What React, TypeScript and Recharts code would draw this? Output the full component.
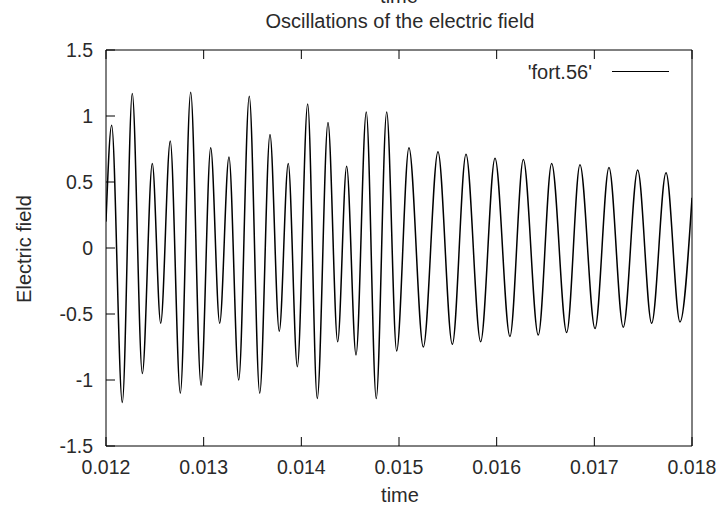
import React from 'react';
import { LineChart, Line, XAxis, YAxis } from 'recharts';

// peaks / troughs
const times = [
  0.012, 0.012058, 0.012167, 0.012269, 0.012372, 0.012474, 0.01256, 0.012658, 0.012761, 0.012867,
  0.012973, 0.013072, 0.013164, 0.013259, 0.013359, 0.013467, 0.013574, 0.013679, 0.013774, 0.013866,
  0.013959, 0.014065, 0.014163, 0.014273, 0.014372, 0.014464, 0.01456, 0.014665, 0.014767, 0.014874,
  0.014976, 0.015102, 0.015249, 0.015399, 0.015546, 0.015686, 0.015836, 0.015983, 0.016136, 0.016273,
  0.016426, 0.016563, 0.016717, 0.016853, 0.017007, 0.01715, 0.017296, 0.017444, 0.017587, 0.017734,
  0.017877, 0.018,
];
const field = [
  0.2, 0.93, -1.17, 1.17, -0.95, 0.64, -0.57, 0.81, -1.1, 1.18,
  -1.04, 0.76, -0.57, 0.69, -1.0, 1.15, -1.1, 0.86, -0.63, 0.64,
  -0.9, 1.09, -1.14, 0.95, -0.71, 0.62, -0.81, 1.03, -1.14, 1.03,
  -0.78, 0.76, -0.75, 0.73, -0.73, 0.71, -0.71, 0.68, -0.67, 0.67,
  -0.66, 0.64, -0.64, 0.63, -0.61, 0.61, -0.6, 0.59, -0.57, 0.57,
  -0.56, 0.38,
];
const xTicks = [0.012, 0.013, 0.014, 0.015, 0.016, 0.017, 0.018];
const yTicks = [-1.5, -1, -0.5, 0, 0.5, 1, 1.5];

const data = times.map((t, i) => ({ t, e: field[i] }));

const FONT = '"Liberation Sans", Arial, sans-serif';
const TXT = '#2a2a2a';
const TICK = 9;

const BottomTick = (p: any) => (
  <g>
    <line x1={p.x} x2={p.x} y1={p.y} y2={p.y - TICK} stroke="#000" />
    <text x={p.x} y={p.y + 28} textAnchor="middle" fontSize={19.5} fontFamily={FONT} fill={TXT}>
      {Number(p.payload.value).toFixed(3)}
    </text>
  </g>
);
const TopTick = (p: any) => <line x1={p.x} x2={p.x} y1={p.y} y2={p.y + TICK} stroke="#000" />;
const LeftTick = (p: any) => (
  <g>
    <line x1={p.x} x2={p.x + TICK} y1={p.y} y2={p.y} stroke="#000" />
    <text x={p.x - 13} y={p.y + 7} textAnchor="end" fontSize={19.5} fontFamily={FONT} fill={TXT}>
      {String(p.payload.value)}
    </text>
  </g>
);
const RightTick = (p: any) => <line x1={p.x} x2={p.x - TICK} y1={p.y} y2={p.y} stroke="#000" />;

const txt: React.CSSProperties = {
  position: 'absolute',
  fontFamily: FONT,
  fontSize: 20,
  color: TXT,
  whiteSpace: 'nowrap',
  lineHeight: '22px',
};

export default function App() {
  return (
    <div style={{ position: 'absolute', left: 0, top: 0, width: 726, height: 506, background: '#fff', overflow: 'hidden' }}>
      <LineChart width={726} height={506} data={data} margin={{ top: 40, right: 24, bottom: 0, left: 46 }}>
        <XAxis
          xAxisId="b"
          dataKey="t"
          type="number"
          domain={[0.012, 0.018]}
          ticks={xTicks}
          interval={0}
          height={60}
          tickSize={0}
          tickMargin={0}
          tickLine={false}
          axisLine={{ stroke: '#000' }}
          tick={BottomTick}
          allowDataOverflow
        />
        <XAxis
          xAxisId="t"
          orientation="top"
          dataKey="t"
          type="number"
          domain={[0.012, 0.018]}
          ticks={xTicks}
          interval={0}
          height={10}
          tickSize={0}
          tickMargin={0}
          tickLine={false}
          axisLine={{ stroke: '#000' }}
          tick={TopTick}
        />
        <YAxis
          yAxisId="l"
          type="number"
          domain={[-1.5, 1.5]}
          ticks={yTicks}
          interval={0}
          width={60}
          tickSize={0}
          tickMargin={0}
          tickLine={false}
          axisLine={{ stroke: '#000' }}
          tick={LeftTick}
          allowDataOverflow
        />
        <YAxis
          yAxisId="r"
          orientation="right"
          type="number"
          domain={[-1.5, 1.5]}
          ticks={yTicks}
          interval={0}
          width={10}
          tickSize={0}
          tickMargin={0}
          tickLine={false}
          axisLine={{ stroke: '#000' }}
          tick={RightTick}
        />
        <Line
          xAxisId="b"
          yAxisId="l"
          dataKey="e"
          type="monotone"
          stroke="#000"
          strokeWidth={1.5}
          dot={false}
          isAnimationActive={false}
        />
      </LineChart>
      <div style={{ ...txt, left: 0, width: 798, textAlign: 'center', top: -15 }}>time</div>
      <div style={{ ...txt, left: 0, width: 800, textAlign: 'center', top: 10 }}>Oscillations of the electric field</div>
      <div style={{ ...txt, left: 0, width: 800, textAlign: 'center', top: 484 }}>time</div>
      <div style={{ ...txt, left: 24, top: 249, transform: 'translate(-50%, -50%) rotate(-90deg)' }}>Electric field</div>
      <div style={{ ...txt, right: 726 - 592, top: 61 }}>'fort.56'</div>
      <div style={{ position: 'absolute', left: 612, top: 71, width: 57, height: 0, borderTop: '1.5px solid #000' }} />
    </div>
  );
}
